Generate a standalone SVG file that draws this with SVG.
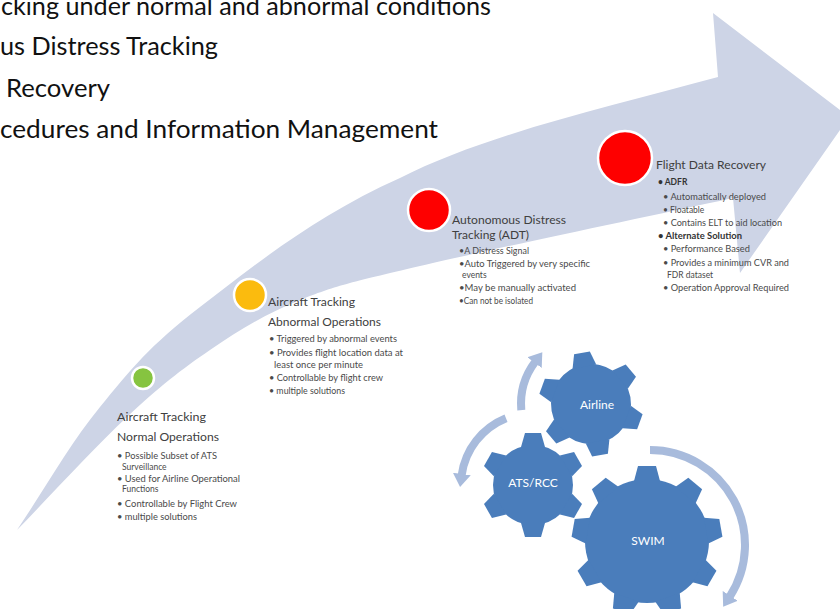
<svg xmlns="http://www.w3.org/2000/svg" xmlns:xlink="http://www.w3.org/1999/xlink" width="840" height="609" viewBox="0 0 840 609">
<defs>
<style>
.head{font-family:Lato,"Open Sans","Liberation Sans",sans-serif;font-size:25px;fill:#111111}
.ttl{font-family:Lato,"Open Sans","Liberation Sans",sans-serif;font-size:11px;fill:#404040}
.bul{font-family:Lato,"Open Sans","Liberation Sans",sans-serif;font-size:8.5px;fill:#4a4a4a}
.bold{font-weight:bold;fill:#333333}
.gtxt{font-family:Lato,"Open Sans","Liberation Sans",sans-serif;font-size:12px;fill:#ffffff;text-anchor:middle}
.dot{stroke:#ffffff;stroke-width:2.5}
.gear{fill:#4a7dbb}
.carr{fill:none;stroke:#a8bbdc;stroke-width:8;marker-end:url(#ah)}
</style>
<marker id="ah" markerUnits="userSpaceOnUse" viewBox="0 0 20 20" markerWidth="20" markerHeight="20" refX="1" refY="10" orient="auto">
<path d="M0,1 L13,10 L0,19 Z" fill="#a8bbdc"/>
</marker>
<g id="gear6">
<circle r="40"/>
<polygon points="-12,-38 12,-38 8,-52 -8,-52"/>
<polygon points="-12,-38 12,-38 8,-52 -8,-52" transform="rotate(60)"/>
<polygon points="-12,-38 12,-38 8,-52 -8,-52" transform="rotate(120)"/>
<polygon points="-12,-38 12,-38 8,-52 -8,-52" transform="rotate(180)"/>
<polygon points="-12,-38 12,-38 8,-52 -8,-52" transform="rotate(240)"/>
<polygon points="-12,-38 12,-38 8,-52 -8,-52" transform="rotate(300)"/>
</g>
<g id="gear9">
<circle r="62"/>
<polygon points="-13,-60 13,-60 9,-75 -9,-75"/>
<polygon points="-13,-60 13,-60 9,-75 -9,-75" transform="rotate(40)"/>
<polygon points="-13,-60 13,-60 9,-75 -9,-75" transform="rotate(80)"/>
<polygon points="-13,-60 13,-60 9,-75 -9,-75" transform="rotate(120)"/>
<polygon points="-13,-60 13,-60 9,-75 -9,-75" transform="rotate(160)"/>
<polygon points="-13,-60 13,-60 9,-75 -9,-75" transform="rotate(200)"/>
<polygon points="-13,-60 13,-60 9,-75 -9,-75" transform="rotate(240)"/>
<polygon points="-13,-60 13,-60 9,-75 -9,-75" transform="rotate(280)"/>
<polygon points="-13,-60 13,-60 9,-75 -9,-75" transform="rotate(320)"/>
</g>
</defs>
<rect x="0" y="0" width="840" height="609" fill="#ffffff"/>

<g id="heading">
<text class="head" x="1" y="15" textLength="490" lengthAdjust="spacingAndGlyphs">cking under normal and abnormal conditions</text>
<text class="head" x="0" y="55" textLength="218" lengthAdjust="spacingAndGlyphs">us Distress Tracking</text>
<text class="head" x="6" y="97" textLength="104" lengthAdjust="spacingAndGlyphs">Recovery</text>
<text class="head" x="0" y="138" textLength="438" lengthAdjust="spacingAndGlyphs">cedures and Information Management</text>
</g>

<path id="timeline-arrow" fill="#cdd4e6" d="M17,530 C44.7,489 69.5,444.2 100,407 C130.5,369.8 150,345.2 200,307 C250,268.8 313.7,216.3 400,178 C486,134 612,106 718,77 L713,13 L849,117 L740,273 L733,198 C628.7,220.7 492.2,249 420,266 C347.8,283 335,286 300,300 C265,314 238.8,330.5 210,350 C181.2,369.5 159.2,387 127,417 C94.8,447 53.7,492.3 17,530 Z"/>

<g id="stage-normal">
<circle class="dot" cx="143" cy="378" r="11" fill="#86c440"/>
<text class="ttl" x="117" y="421" textLength="89" lengthAdjust="spacingAndGlyphs">Aircraft Tracking</text>
<text class="ttl" x="117" y="441" textLength="102" lengthAdjust="spacingAndGlyphs">Normal Operations</text>
<text class="bul" x="117" y="459" textLength="100" lengthAdjust="spacingAndGlyphs">• Possible Subset of ATS</text>
<text class="bul" x="122" y="470">Surveillance</text>
<text class="bul" x="117" y="482" textLength="123" lengthAdjust="spacingAndGlyphs">• Used for Airline Operational</text>
<text class="bul" x="122" y="492">Functions</text>
<text class="bul" x="117" y="507" textLength="120" lengthAdjust="spacingAndGlyphs">• Controllable by Flight Crew</text>
<text class="bul" x="117" y="520" textLength="80" lengthAdjust="spacingAndGlyphs">• multiple solutions</text>
</g>

<g id="stage-abnormal">
<circle class="dot" cx="250" cy="295" r="16" fill="#fbbb0e"/>
<text class="ttl" x="268" y="306" textLength="87" lengthAdjust="spacingAndGlyphs">Aircraft Tracking</text>
<text class="ttl" x="268" y="326" textLength="113" lengthAdjust="spacingAndGlyphs">Abnormal Operations</text>
<text class="bul" x="269" y="342" textLength="128" lengthAdjust="spacingAndGlyphs">• Triggered by abnormal events</text>
<text class="bul" x="269" y="356" textLength="134" lengthAdjust="spacingAndGlyphs">• Provides flight location data at</text>
<text class="bul" x="274" y="368" textLength="89" lengthAdjust="spacingAndGlyphs">least once per minute</text>
<text class="bul" x="269" y="381" textLength="114" lengthAdjust="spacingAndGlyphs">• Controllable by flight crew</text>
<text class="bul" x="269" y="394" textLength="76" lengthAdjust="spacingAndGlyphs">• multiple solutions</text>
</g>

<g id="stage-adt">
<circle class="dot" cx="429" cy="210" r="21" fill="#fe0000"/>
<text class="ttl" x="452" y="224" textLength="114" lengthAdjust="spacingAndGlyphs">Autonomous Distress</text>
<text class="ttl" x="452" y="239" textLength="77" lengthAdjust="spacingAndGlyphs">Tracking (ADT)</text>
<text class="bul" x="459" y="254" textLength="70" lengthAdjust="spacingAndGlyphs">•A Distress Signal</text>
<text class="bul" x="459" y="267" textLength="131" lengthAdjust="spacingAndGlyphs">•Auto Triggered by very specific</text>
<text class="bul" x="462" y="278">events</text>
<text class="bul" x="459" y="291" textLength="117" lengthAdjust="spacingAndGlyphs">•May be manually activated</text>
<text class="bul" x="459" y="304" textLength="74" lengthAdjust="spacingAndGlyphs">•Can not be isolated</text>
</g>

<g id="stage-fdr">
<circle class="dot" cx="625" cy="158" r="27" fill="#fe0000"/>
<text class="ttl" x="656" y="169" textLength="110" lengthAdjust="spacingAndGlyphs">Flight Data Recovery</text>
<text class="bul bold" x="658" y="185">• ADFR</text>
<text class="bul" x="663" y="200" textLength="103" lengthAdjust="spacingAndGlyphs">• Automatically deployed</text>
<text class="bul" x="663" y="213">• Floatable</text>
<text class="bul" x="663" y="226" textLength="119" lengthAdjust="spacingAndGlyphs">• Contains ELT to aid location</text>
<text class="bul bold" x="658" y="239" textLength="84" lengthAdjust="spacingAndGlyphs">• Alternate Solution</text>
<text class="bul" x="663" y="252" textLength="87" lengthAdjust="spacingAndGlyphs">• Performance Based</text>
<text class="bul" x="663" y="266" textLength="126" lengthAdjust="spacingAndGlyphs">• Provides a minimum CVR and</text>
<text class="bul" x="667" y="278">FDR dataset</text>
<text class="bul" x="663" y="291" textLength="126" lengthAdjust="spacingAndGlyphs">• Operation Approval Required</text>
</g>

<g id="connectors">
<path class="carr" d="M521.3,410.1 A70,70 0 0 1 535.1,361.9"/>
<path class="carr" d="M506,418.2 A72,72 0 0 0 461.7,475"/>
<path class="carr" d="M650,450 A95,95 0 0 1 729.7,596.7"/>
</g>

<g id="gear-airline">
<use xlink:href="#gear6" href="#gear6" class="gear" transform="translate(591,404) rotate(-10)"/>
<text class="gtxt" x="597" y="409">Airline</text>
</g>
<g id="gear-atsrcc">
<use xlink:href="#gear6" href="#gear6" class="gear" transform="translate(533,485)"/>
<text class="gtxt" x="533" y="487">ATS/RCC</text>
</g>
<g id="gear-swim">
<use xlink:href="#gear9" href="#gear9" class="gear" transform="translate(647,541)"/>
<text class="gtxt" x="648" y="545">SWIM</text>
</g>
</svg>
